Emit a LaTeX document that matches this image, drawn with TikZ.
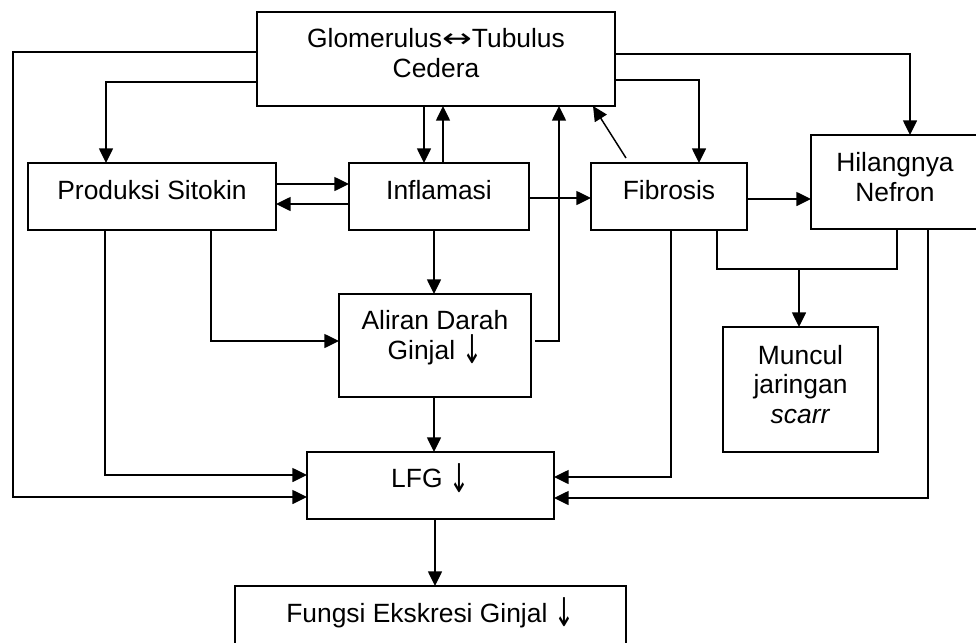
\documentclass[tikz,border=0pt]{standalone}
\usepackage{fontspec}
\usepackage{graphicx}
\setmainfont{Liberation Sans}
\newfontfamily\arrfont{DejaVu Sans}
\newcommand{\dnarr}{\raisebox{-3.5pt}{\scalebox{0.9}[1.5]{\arrfont ↓}}}
\newcommand{\lrarr}{\scalebox{1.35}[1]{\arrfont ↔}}
\usetikzlibrary{arrows.meta,calc}
\begin{document}
\begin{tikzpicture}[x=0.75pt,y=-0.75pt,
  box/.style={draw,line width=1.1pt,inner sep=0pt,outer sep=0pt,align=center,
    font=\fontsize{19.8pt}{22pt}\selectfont},
  one/.style={box,text height=14.2pt,text depth=10pt},
  conn/.style={line width=1.1pt},
  arr/.style={conn,-{Triangle[length=11pt,width=10.5pt]}}]
\useasboundingbox (0,0) rectangle (976,643);
\clip (0,0) rectangle (976,643);
% boxes
\node[box,minimum width=268.5pt,minimum height=70.5pt,text height=35.25pt,text depth=8.25pt] (glom) at (436,59) {Glomerulus\lrarr Tubulus\\Cedera};
\node[one,minimum width=186pt,minimum height=50.25pt] (prod) at (152,196.5) {Produksi Sitokin};
\node[one,minimum width=135pt,minimum height=50.25pt] (infl) at (439,196.5) {Inflamasi};
\node[one,minimum width=117pt,minimum height=50.25pt] (fib) at (669,196.5) {Fibrosis};
\node[box,minimum width=126pt,minimum height=70.5pt,text height=36pt,text depth=7.5pt] (hil) at (895,182) {Hilangnya\\Nefron};
\node[box,minimum width=144pt,minimum height=77.25pt,text height=35.25pt,text depth=15pt] (al) at (435,345.5) {Aliran Darah\\Ginjal \dnarr};
\node[box,minimum width=116.25pt,minimum height=93.75pt,text height=59.25pt,text depth=9pt] (mun) at (800.5,389.5) {Muncul\\jaringan\\\textit{scarr}};
\node[one,minimum width=185.25pt,minimum height=50.25pt,text depth=11.25pt] (lfg) at (430.5,485.5) {LFG \dnarr};
\node[one,minimum width=293.25pt,minimum height=50.25pt] (fun) at (430.5,619.5) {Fungsi Ekskresi Ginjal \dnarr};
% connectors
\draw[arr] (glom.west |- 0,52) -- (13,52) -- (13,497) -- (lfg.west |- 0,497);
\draw[arr] (glom.west |- 0,82) -| (prod.north -| 106,0);
\draw[arr] (glom.south -| 424,0) -- (infl.north -| 424,0);
\draw[arr] (infl.north -| 443,0) -- (glom.south -| 443,0);
\draw[arr] (prod.east |- 0,184) -- (infl.west |- 0,184);
\draw[arr] (infl.west |- 0,204) -- (prod.east |- 0,204);
\draw[arr] (infl.east |- 0,198) -- (fib.west |- 0,198);
\draw[arr] ($(al.east)+(4,-4.5)$) -| (glom.south -| 559,0);
\draw[arr] ($(fib.north west)+(35,-5)$) -- (glom.south -| 593,0);
\draw[arr] (glom.east |- 0,80) -| (fib.north -| 699,0);
\draw[arr] (glom.east |- 0,54) -| (hil.north -| 910,0);
\draw[arr] (fib.east |- 0,199) -- (hil.west |- 0,199);
\draw[arr] (infl.south -| 434,0) -- (al.north -| 434,0);
\draw[arr] (prod.south -| 211,0) |- (al.west |- 0,341);
\draw[arr] (prod.south -| 105,0) |- (lfg.west |- 0,475);
\draw[arr] (al.south -| 434,0) -- (lfg.north -| 434,0);
\draw[arr] (fib.south -| 671,0) |- (lfg.east |- 0,477);
\draw[arr] (hil.south -| 928,0) |- (lfg.east |- 0,498);
\draw[conn] (fib.south -| 717,0) |- (897,269) -- (hil.south -| 897,0);
\coordinate (j) at (799,269);
\draw[arr] (j) -- (mun.north -| 799,0);
\draw[arr] (lfg.south -| 435,0) -- (fun.north -| 435,0);
\end{tikzpicture}
\end{document}
